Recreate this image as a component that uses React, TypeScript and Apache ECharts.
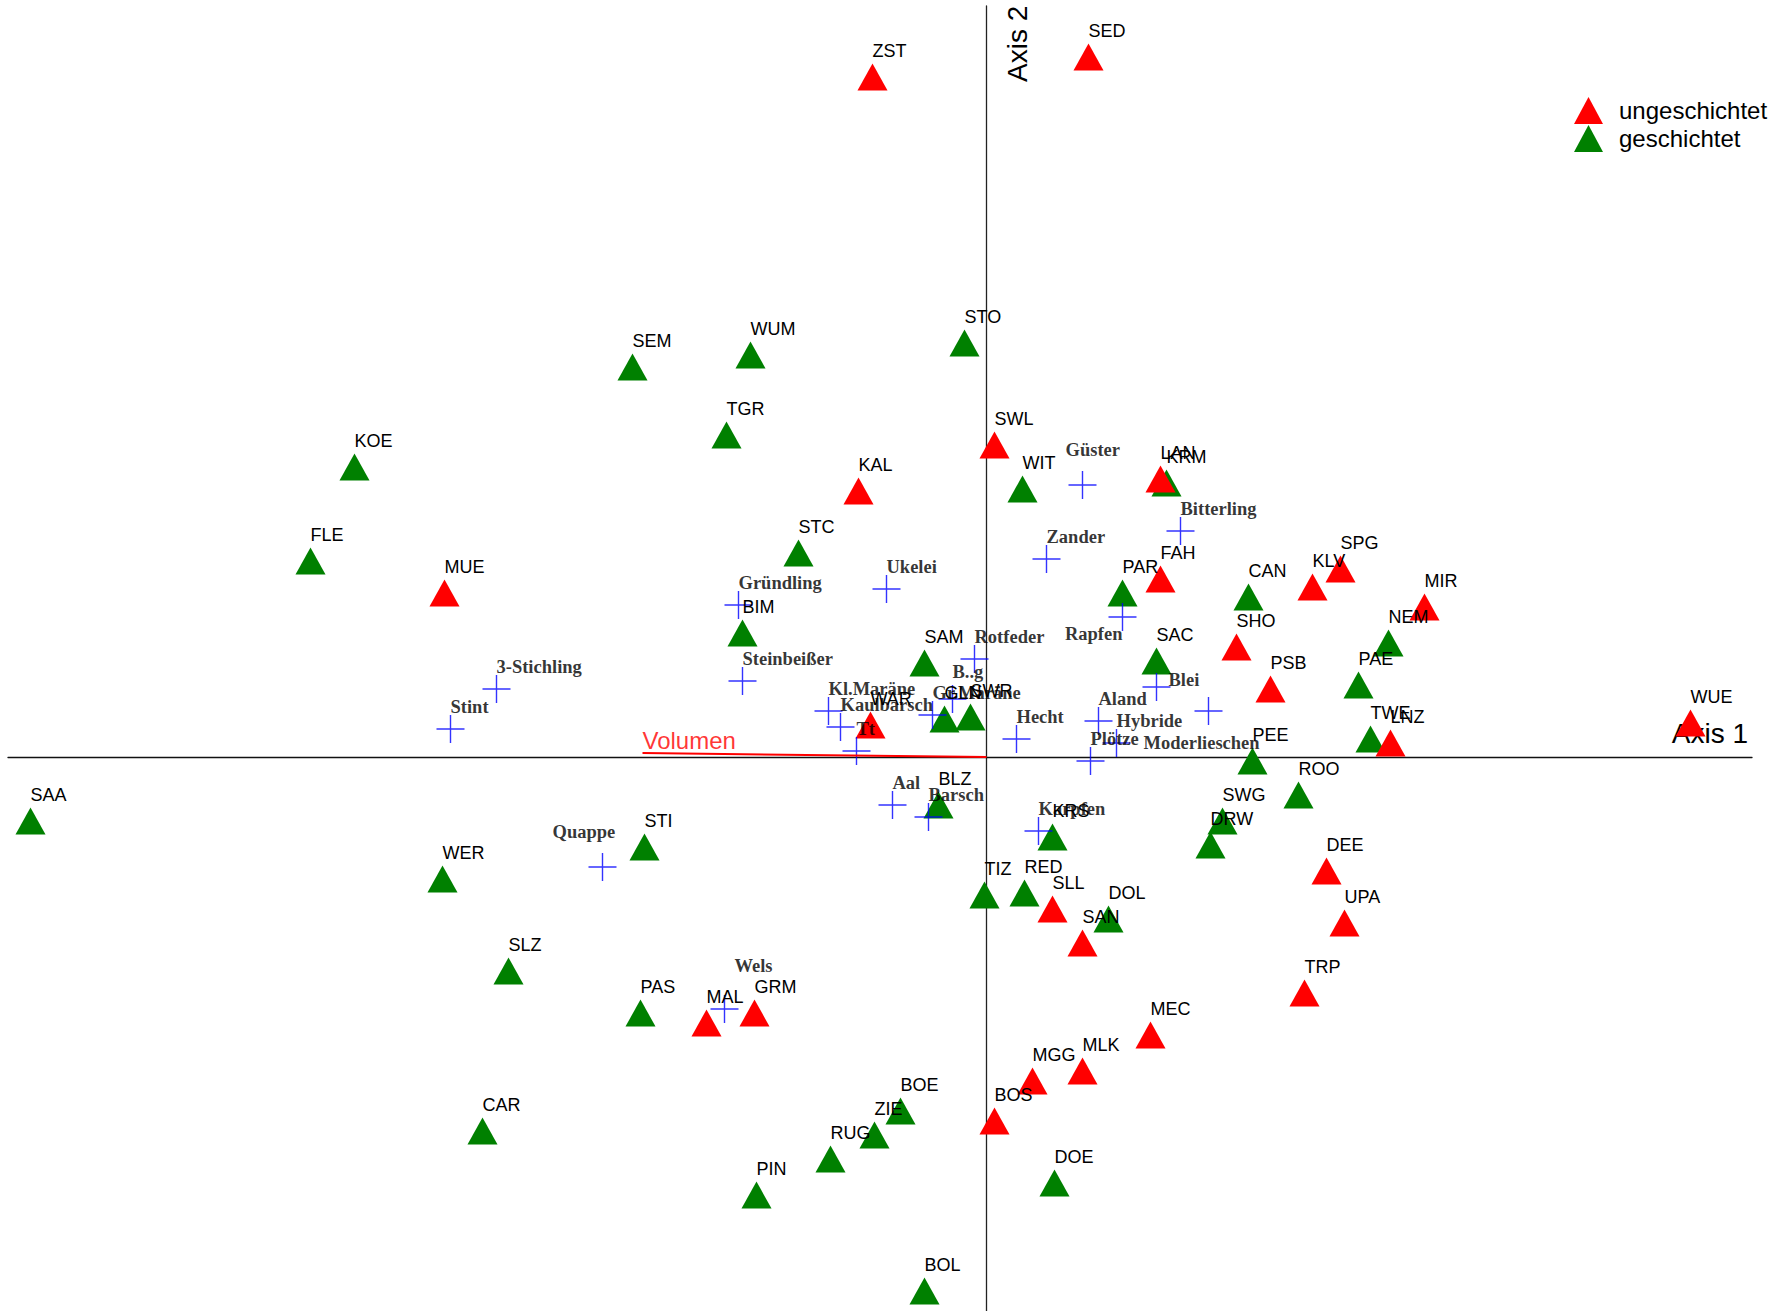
import React, { useEffect, useRef } from "react";
import * as echarts from "echarts";

// Ordination scores (axis units, origin at the axes' crossing)
const ungeschichtet: [string, number, number][] = [
  ["ZST", -0.57, 3.4], ["SED", 0.51, 3.5], ["SWL", 0.04, 1.56], ["KAL", -0.64, 1.33],
  ["LAN", 0.87, 1.39], ["FAH", 0.87, 0.89], ["MUE", -2.71, 0.82], ["KLV", 1.63, 0.85],
  ["SPG", 1.77, 0.94], ["MIR", 2.19, 0.75], ["SHO", 1.25, 0.55], ["PSB", 1.42, 0.34],
  ["LNZ", 2.02, 0.07], ["WUE", 3.52, 0.17], ["WAR", -0.58, 0.16], ["DEE", 1.7, -0.57],
  ["UPA", 1.79, -0.83], ["TRP", 1.59, -1.18], ["SLL", 0.33, -0.76], ["SAN", 0.48, -0.93],
  ["MEC", 0.82, -1.39], ["MLK", 0.48, -1.57], ["MGG", 0.23, -1.62], ["BOS", 0.04, -1.82],
  ["MAL", -1.4, -1.33], ["GRM", -1.16, -1.28],
];

const geschichtet: [string, number, number][] = [
  ["STO", -0.11, 2.07], ["SEM", -1.77, 1.95], ["WUM", -1.18, 2.01], ["TGR", -1.3, 1.61],
  ["KOE", -3.16, 1.45], ["FLE", -3.38, 0.98], ["WIT", 0.18, 1.34], ["KRM", 0.9, 1.37],
  ["STC", -0.94, 1.02], ["BIM", -1.22, 0.62], ["PAR", 0.68, 0.82], ["CAN", 1.31, 0.8],
  ["SAM", -0.31, 0.47], ["SAC", 0.85, 0.48], ["NEM", 2.01, 0.57], ["PAE", 1.86, 0.36],
  ["GLN", -0.21, 0.19], ["SWR", -0.08, 0.2], ["TWE", 1.92, 0.09], ["PEE", 1.33, -0.02],
  ["ROO", 1.56, -0.19], ["SWG", 1.18, -0.32], ["DRW", 1.12, -0.44], ["BLZ", -0.24, -0.24],
  ["KRS", 0.33, -0.4], ["SAA", -4.78, -0.32], ["STI", -1.71, -0.45], ["WER", -2.72, -0.61],
  ["TIZ", -0.01, -0.69], ["RED", 0.19, -0.68], ["DOL", 0.61, -0.81], ["SLZ", -2.39, -1.07],
  ["PAS", -1.73, -1.28], ["CAR", -2.52, -1.87], ["BOE", -0.43, -1.77], ["ZIE", -0.56, -1.89],
  ["RUG", -0.78, -2.01], ["PIN", -1.15, -2.19], ["DOE", 0.34, -2.13], ["BOL", -0.31, -2.67],
];

const species: [string, number, number][] = [
  ["Güster", 0.48, 1.36], ["Bitterling", 0.97, 1.13], ["Zander", 0.3, 0.99],
  ["Ukelei", -0.5, 0.84], ["Gründling", -1.24, 0.76], ["Rapfen", 0.68, 0.7],
  ["Rotfeder", -0.06, 0.49], ["Steinbeißer", -1.22, 0.38], ["3-Stichling", -2.45, 0.34],
  ["Stint", -2.68, 0.14], ["Blei", 0.85, 0.35], ["Kl.Maräne", -0.79, 0.23],
  ["Kaulbarsch", -0.73, 0.15], ["Tt", -0.65, 0.03], ["B..g", -0.17, 0.29],
  ["Gr.Maräne", -0.27, 0.21], ["Hecht", 0.15, 0.09], ["Aland", 0.56, 0.18],
  ["Hybride", 0.65, 0.07], ["Plötze", 0.52, -0.02], ["Moderlieschen", 1.11, 0.23],
  ["Aal", -0.47, -0.24], ["Barsch", -0.29, -0.3], ["Karpfen", 0.26, -0.37],
  ["Quappe", -1.92, -0.55], ["Wels", -1.31, -1.26],
];

// Environmental variable arrow
const volumenName = "Volumen";
const volumen: [number, number] = [-1.72, 0.02];

// Axis extents
const xRange: [number, number] = [-4.8925, 3.8275];
const yRange: [number, number] = [-2.77, 3.755];

// Label placement tweaks (px) for labels that were moved in the original
const labelTweaks: Record<string, { offset: [number, number]; align?: string }> = {
  "Güster": { offset: [-17, -12] },
  "Rapfen": { offset: [0, 40], align: "right" },
  "Blei": { offset: [12, 16] },
  "Moderlieschen": { offset: [-65, 55] },
  "Quappe": { offset: [-50, -12] },
  "Wels": { offset: [10, -20] },
  "B..g": { offset: [0, -4] },
};

const SANS = '"Liberation Sans", Arial, Helvetica, sans-serif';
const SERIF = '"Liberation Serif", "Times New Roman", Times, serif';
const RED = "#ff0000";
const GREEN = "#008000";
const BLUE = "#0000ff";
const CROSS = "path://M13.3,0H14.7V13.3H28V14.7H14.7V28H13.3V14.7H0V13.3H13.3Z";

function siteSeries(name: string, rows: [string, number, number][], color: string) {
  return {
    name,
    type: "scatter",
    clip: false,
    symbol: "triangle",
    symbolSize: [30, 27],
    itemStyle: { color, opacity: 1 },
    label: {
      show: true,
      position: "top",
      distance: 4,
      align: "left",
      verticalAlign: "bottom",
      color: "#000",
      fontFamily: SANS,
      fontSize: 18,
      formatter: (p: any) => p.name,
    },
    emphasis: { disabled: true },
    data: rows.map(([n, x, y]) => ({ name: n, value: [x, y] })),
  };
}

export default function App() {
  const ref = useRef<HTMLDivElement>(null);

  useEffect(() => {
    if (!ref.current) return;
    const chart = echarts.init(ref.current, undefined, { renderer: "svg" });

    const speciesData = species.map(([n, x, y]) => {
      const t = labelTweaks[n];
      const item: any = { name: n, value: [x, y] };
      if (t) {
        item.label = { offset: t.offset };
        if (t.align) item.label.align = t.align;
      }
      return item;
    });

    chart.setOption({
      animation: false,
      backgroundColor: "#ffffff",
      grid: { left: 8, right: 30, top: 6, bottom: 0, containLabel: false },
      xAxis: {
        type: "value",
        min: xRange[0],
        max: xRange[1],
        axisLine: { show: true, onZero: true, lineStyle: { color: "#111", width: 1.3 } },
        axisTick: { show: false },
        axisLabel: { show: false },
        splitLine: { show: false },
      },
      yAxis: {
        type: "value",
        min: yRange[0],
        max: yRange[1],
        axisLine: { show: true, onZero: true, lineStyle: { color: "#222", width: 1.3 } },
        axisTick: { show: false },
        axisLabel: { show: false },
        splitLine: { show: false },
      },
      legend: {
        data: ["ungeschichtet", "geschichtet"],
        orient: "vertical",
        left: 1574,
        top: 97,
        padding: 0,
        itemWidth: 29,
        itemHeight: 27,
        itemGap: 1,
        icon: "triangle",
        selectedMode: false,
        textStyle: { fontFamily: SANS, fontSize: 24, color: "#000", padding: [0, 0, 0, 11] },
      },
      graphic: [
        {
          type: "text",
          x: 1748,
          y: 733,
          style: {
            text: "Axis 1",
            font: `28px ${SANS}`,
            fill: "#000",
            align: "right",
            verticalAlign: "middle",
            textAlign: "right",
            textVerticalAlign: "middle",
          },
        },
        {
          type: "text",
          x: 1017,
          y: 82,
          rotation: Math.PI / 2,
          style: {
            text: "Axis 2",
            font: `28px ${SANS}`,
            fill: "#000",
            align: "left",
            verticalAlign: "middle",
            textAlign: "left",
            textVerticalAlign: "middle",
          },
        },
      ],
      series: [
        siteSeries("geschichtet", geschichtet, GREEN),
        siteSeries("ungeschichtet", ungeschichtet, RED),
        {
          name: "Arten",
          type: "scatter",
          clip: false,
          symbol: CROSS,
          symbolSize: 28,
          itemStyle: { color: BLUE },
          label: {
            show: true,
            position: "top",
            distance: 0,
            offset: [0, 1],
            align: "left",
            verticalAlign: "bottom",
            color: "#000",
            fontFamily: SERIF,
            fontWeight: "bold",
            fontSize: 18.5,
            formatter: (p: any) => p.name,
          },
          emphasis: { disabled: true },
          data: speciesData,
        },
        {
          name: volumenName,
          type: "line",
          symbol: "none",
          clip: false,
          lineStyle: { color: RED, width: 2 },
          emphasis: { disabled: true },
          data: [[0, 0], volumen],
        },
        {
          name: volumenName + "-label",
          type: "scatter",
          clip: false,
          symbolSize: 1,
          itemStyle: { color: "rgba(0,0,0,0)" },
          label: {
            show: true,
            position: "top",
            distance: 0,
            align: "left",
            verticalAlign: "bottom",
            color: RED,
            fontFamily: SANS,
            fontSize: 24,
            formatter: () => volumenName,
          },
          emphasis: { disabled: true },
          data: [{ name: volumenName, value: volumen }],
        },
      ],
    });

    return () => chart.dispose();
  }, []);

  return (
    <div
      ref={ref}
      style={{ position: "absolute", left: 0, top: 0, width: 1782, height: 1311, background: "#fff" }}
    />
  );
}
